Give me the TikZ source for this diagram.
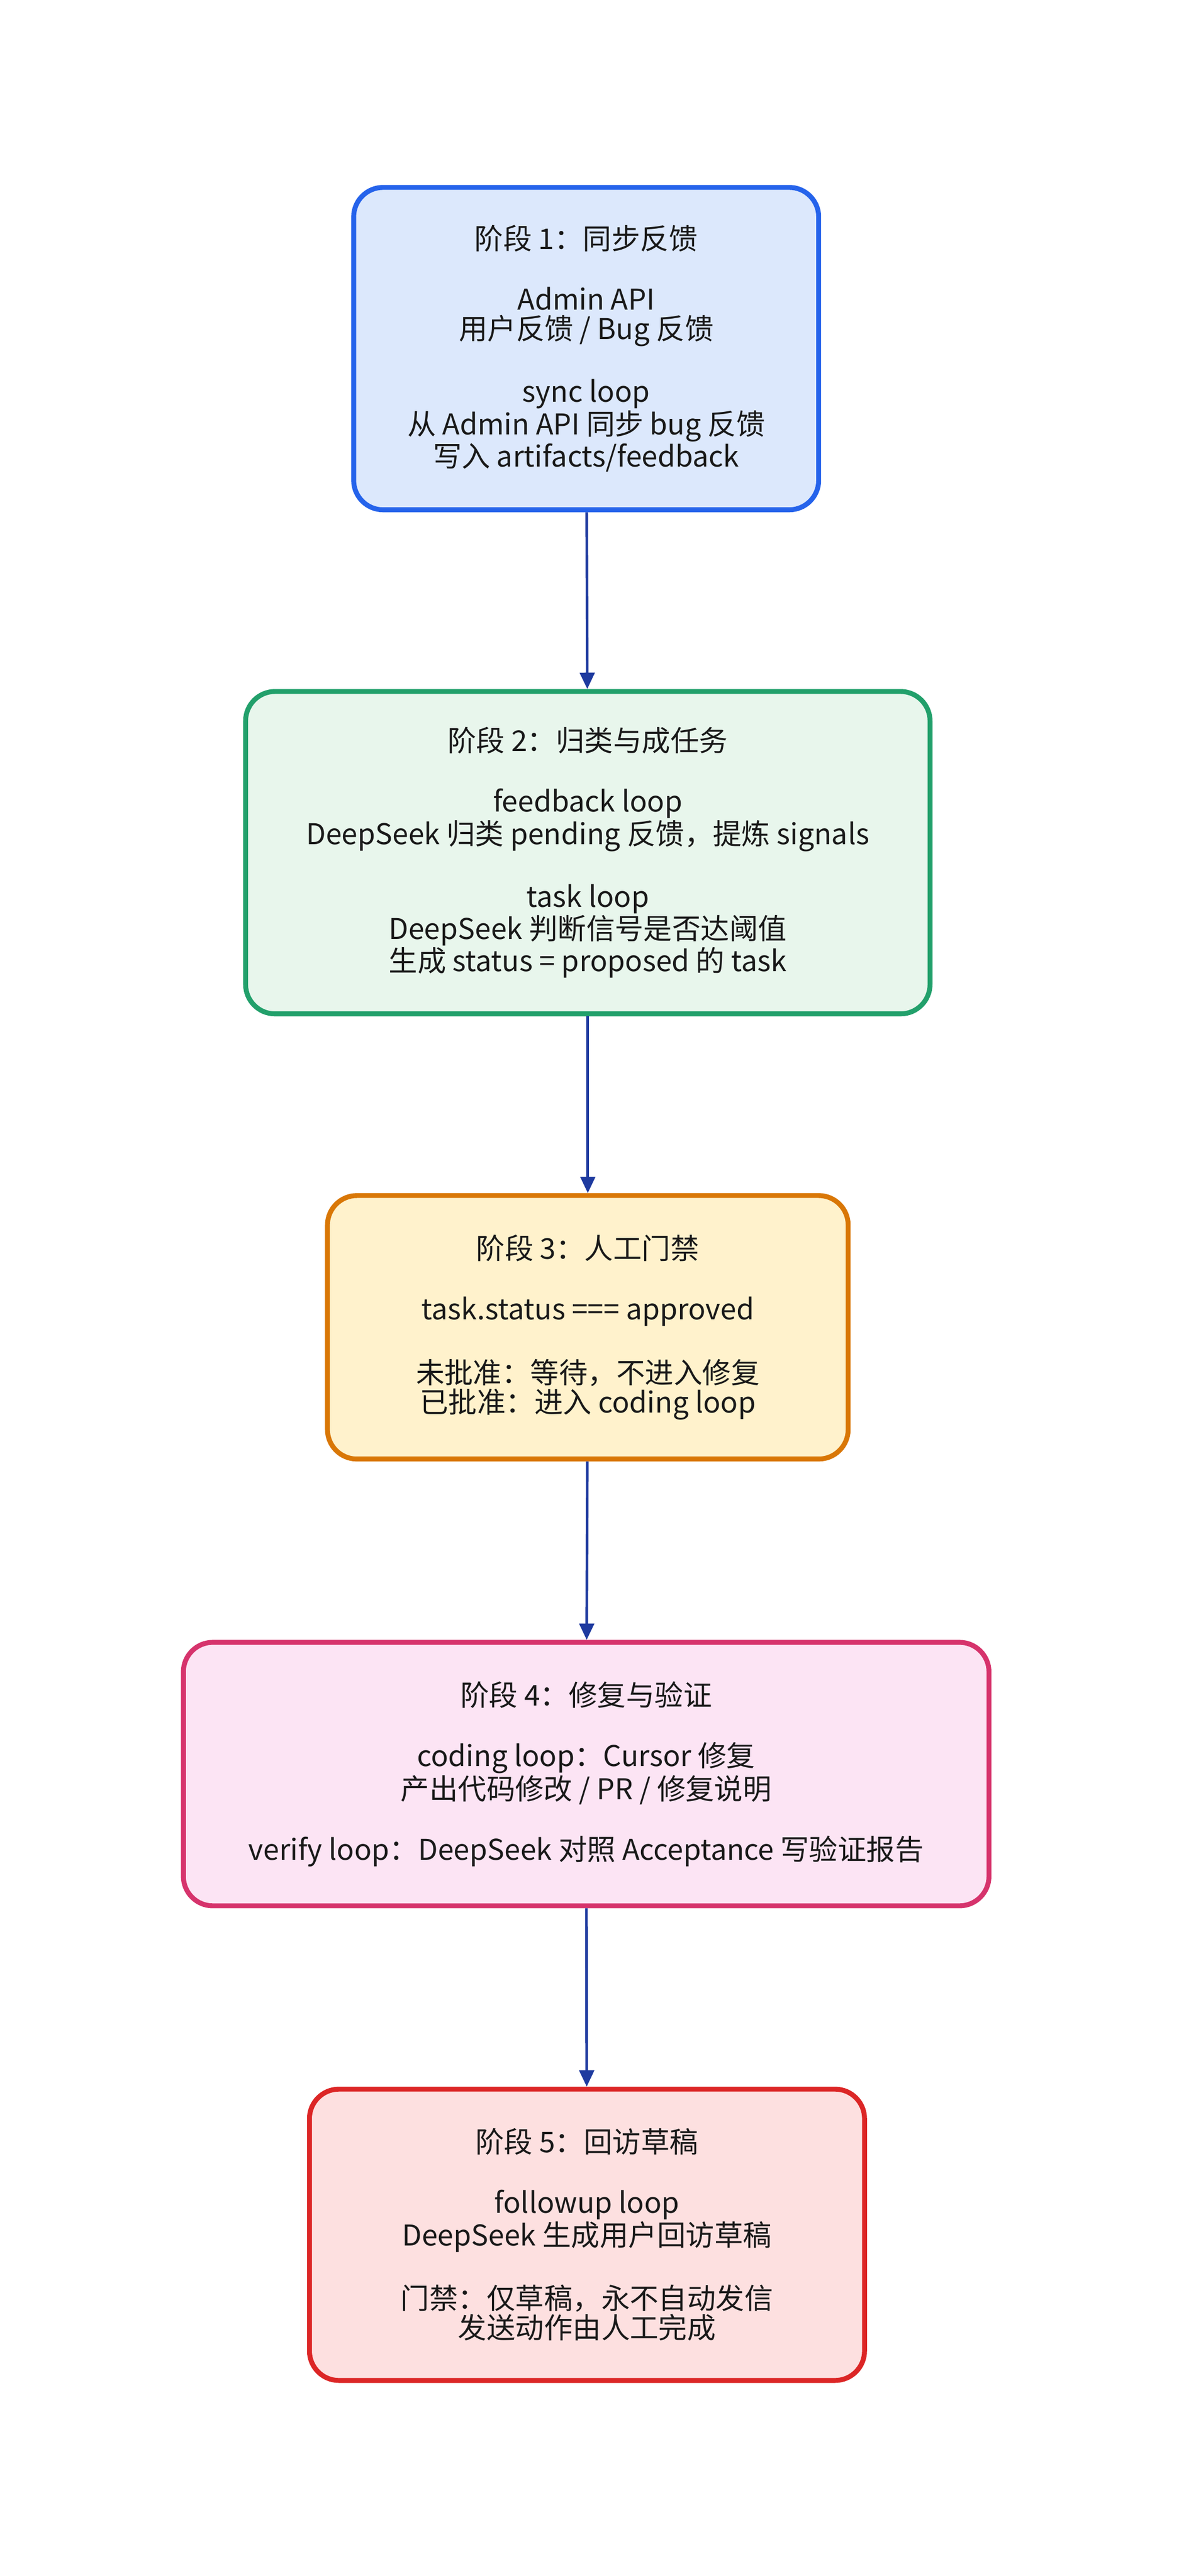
\documentclass[tikz,border=0pt]{standalone}
\usepackage{fontspec}
\setmainfont{Noto Sans CJK SC}
\usetikzlibrary{arrows.meta}
\definecolor{f1}{HTML}{DCE8FC}\definecolor{d1}{HTML}{2563EB}
\definecolor{f2}{HTML}{E8F6EC}\definecolor{d2}{HTML}{22A06B}
\definecolor{f3}{HTML}{FFF2CC}\definecolor{d3}{HTML}{D97706}
\definecolor{f4}{HTML}{FCE4F4}\definecolor{d4}{HTML}{D6336C}
\definecolor{f5}{HTML}{FDE0E0}\definecolor{d5}{HTML}{DC2626}
\definecolor{arr}{HTML}{1E3A9F}
\begin{document}
\begin{tikzpicture}[x=1pt,y=-1pt,
 box/.style={draw=#1,fill=#1!12!white,line width=3pt,rounded corners=18pt,align=center,inner sep=0pt,
   font=\fontsize{17.5pt}{18pt}\selectfont,text=black!90},
 conn/.style={draw=arr,line width=1.6pt,-{Triangle[length=10pt,width=9pt]}}]
\useasboundingbox (0,0) rectangle (720,1574);
\node[box=d1,fill=f1,minimum width=284pt,minimum height=197pt] (b1) at (358,213) {阶段 1：同步反馈\\[19pt]Admin API\\用户反馈 / Bug 反馈\\[19pt]sync loop\\从 Admin API 同步 bug 反馈\\写入 artifacts/feedback};
\node[box=d2,fill=f2,minimum width=418pt,minimum height=197pt] (b2) at (359,521) {阶段 2：归类与成任务\\[19pt]feedback loop\\DeepSeek 归类 pending 反馈，提炼 signals\\[19pt]task loop\\DeepSeek 判断信号是否达阈值\\生成 status = proposed 的 task};
\node[box=d3,fill=f3,minimum width=318pt,minimum height=161pt] (b3) at (359,811) {阶段 3：人工门禁\\[19pt]task.status === approved\\[19pt]未批准：等待，不进入修复\\已批准：进入 coding loop};
\node[box=d4,fill=f4,minimum width=492pt,minimum height=161pt] (b4) at (358,1084) {阶段 4：修复与验证\\[19pt]coding loop：Cursor 修复\\产出代码修改 / PR / 修复说明\\[19pt]verify loop：DeepSeek 对照 Acceptance 写验证报告};
\node[box=d5,fill=f5,minimum width=339pt,minimum height=178pt] (b5) at (358.5,1365.5) {阶段 5：回访草稿\\[19pt]followup loop\\DeepSeek 生成用户回访草稿\\[19pt]门禁：仅草稿，永不自动发信\\发送动作由人工完成};
\draw[conn] (b1) -- (b2);
\draw[conn] (b2) -- (b3);
\draw[conn] (b3) -- (b4);
\draw[conn] (b4) -- (b5);
\end{tikzpicture}
\end{document}
